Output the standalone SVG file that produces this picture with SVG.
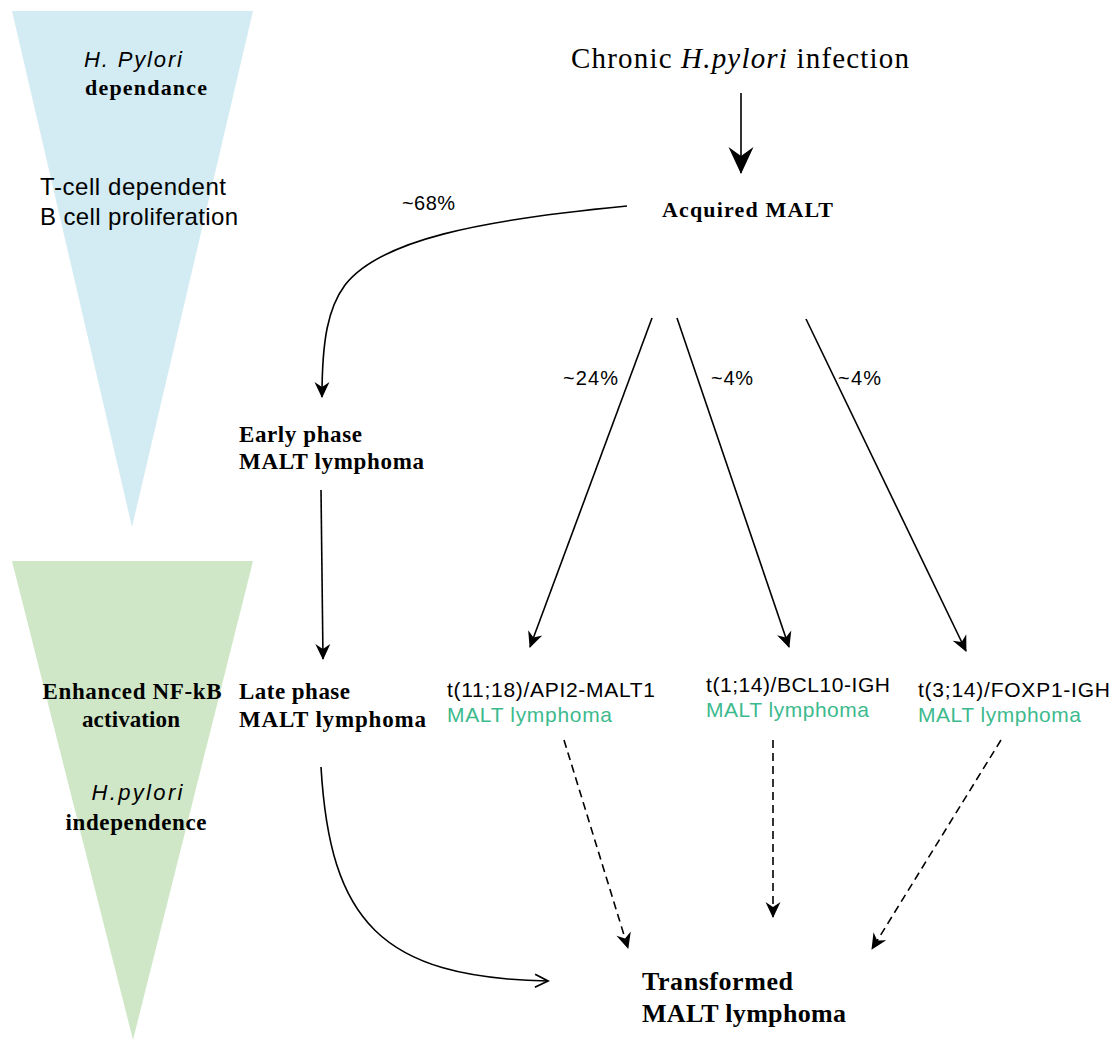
<svg xmlns="http://www.w3.org/2000/svg" width="1114" height="1040" viewBox="0 0 1114 1040">
<style>
.sans{font-family:"Liberation Sans",Arial,sans-serif;fill:#000}
.serif{font-family:"Liberation Serif","Times New Roman",serif;fill:#000}
.b{font-weight:bold}
.i{font-style:italic}
.green{fill:#3dba8d}
.ln{fill:none;stroke:#000;stroke-width:1.6}
.dash{stroke-dasharray:8 5}
</style>
<defs>
<marker id="ah" viewBox="-20 -10 22 20" refX="0" refY="0" markerWidth="22" markerHeight="20" orient="auto" markerUnits="userSpaceOnUse">
<path d="M1,0 L-15,-7.5 L-10,0 L-15,7.5 Z" fill="#000"/>
</marker>
<marker id="ahBig" viewBox="-30 -15 32 30" refX="0" refY="0" markerWidth="32" markerHeight="30" orient="auto" markerUnits="userSpaceOnUse">
<path d="M1,0 L-26,-12.5 L-17,0 L-26,12.5 Z" fill="#000"/>
</marker>
<marker id="chev" viewBox="-16 -10 18 20" refX="0" refY="0" markerWidth="18" markerHeight="20" orient="auto" markerUnits="userSpaceOnUse">
<path d="M-13,-6.5 L0,0 L-13,6.5" fill="none" stroke="#000" stroke-width="1.8"/>
</marker>
</defs>
<rect width="1114" height="1040" fill="#fff"/>

<g id="bands">
<polygon id="band-dependence" points="12,11 253,11 132,527" fill="#d3ebf2"/>
<polygon id="band-independence" points="12,561 253,561 133,1040" fill="#cfe7c7"/>
</g>

<g id="band-labels">
<text class="sans i" x="133" y="67" font-size="22" text-anchor="middle" textLength="98">H. Pylori</text>
<text class="serif b" x="146" y="95" font-size="22" text-anchor="middle" textLength="122">dependance</text>
<text class="sans" x="40" y="195" font-size="24" textLength="186">T-cell dependent</text>
<text class="sans" x="40" y="225" font-size="24" textLength="198">B cell proliferation</text>
<text class="serif b" x="132" y="699" font-size="23" text-anchor="middle" textLength="179">Enhanced NF-kB</text>
<text class="serif b" x="131" y="727" font-size="23" text-anchor="middle" textLength="98">activation</text>
<text class="sans i" x="137" y="800" font-size="22" text-anchor="middle" textLength="91">H.pylori</text>
<text class="serif b" x="136" y="830" font-size="23" text-anchor="middle" textLength="141">independence</text>
</g>

<g id="node-chronic">
<text class="serif" x="571" y="68" font-size="29" textLength="338">Chronic <tspan class="i">H.pylori</tspan> infection</text>
</g>
<g id="node-acquired">
<text class="serif b" x="662" y="217" font-size="22" textLength="171">Acquired MALT</text>
</g>
<g id="node-early">
<text class="serif b" x="239" y="442" font-size="23" textLength="123">Early phase</text>
<text class="serif b" x="239" y="469" font-size="23" textLength="185">MALT lymphoma</text>
</g>
<g id="node-late">
<text class="serif b" x="239" y="699" font-size="23" textLength="111">Late phase</text>
<text class="serif b" x="239" y="727" font-size="23" textLength="187">MALT lymphoma</text>
</g>
<g id="node-api2">
<text class="sans" x="447" y="697" font-size="21" textLength="208">t(11;18)/API2-MALT1</text>
<text class="sans green" x="447" y="722" font-size="21" textLength="165">MALT lymphoma</text>
</g>
<g id="node-bcl10">
<text class="sans" x="706" y="692" font-size="21" textLength="184">t(1;14)/BCL10-IGH</text>
<text class="sans green" x="706" y="717" font-size="21" textLength="163">MALT lymphoma</text>
</g>
<g id="node-foxp1">
<text class="sans" x="918" y="697" font-size="21" textLength="192">t(3;14)/FOXP1-IGH</text>
<text class="sans green" x="918" y="722" font-size="21" textLength="163">MALT lymphoma</text>
</g>
<g id="node-transformed">
<text class="serif b" x="642" y="990" font-size="26" textLength="151">Transformed</text>
<text class="serif b" x="642" y="1022" font-size="26" textLength="204">MALT lymphoma</text>
</g>

<g id="connectors">
<line class="ln" x1="741" y1="93" x2="741" y2="173" marker-end="url(#ahBig)"/>
<path class="ln" d="M627,206 C480,220 380,240 345,285 C328,308 322,340 322,397" marker-end="url(#ah)"/>
<line class="ln" x1="321" y1="490" x2="323" y2="659" marker-end="url(#ah)"/>
<line class="ln" x1="652" y1="318" x2="530" y2="647" marker-end="url(#ah)"/>
<line class="ln" x1="677" y1="318" x2="789" y2="647" marker-end="url(#ah)"/>
<line class="ln" x1="806" y1="319" x2="966" y2="651" marker-end="url(#ah)"/>
<path class="ln" d="M321,767 C330,920 380,978 548,981" marker-end="url(#chev)"/>
<line class="ln dash" x1="564" y1="740" x2="628" y2="948" marker-end="url(#ah)"/>
<line class="ln dash" x1="773" y1="740" x2="773" y2="917" marker-end="url(#ah)"/>
<line class="ln dash" x1="1001" y1="740" x2="872" y2="949" marker-end="url(#ah)"/>
</g>

<g id="connector-labels">
<text class="sans" x="402" y="210" font-size="20" textLength="53">~68%</text>
<text class="sans" x="563" y="385" font-size="20" textLength="55">~24%</text>
<text class="sans" x="711" y="385" font-size="20" textLength="42">~4%</text>
<text class="sans" x="838" y="385" font-size="20" textLength="43">~4%</text>
</g>
</svg>
